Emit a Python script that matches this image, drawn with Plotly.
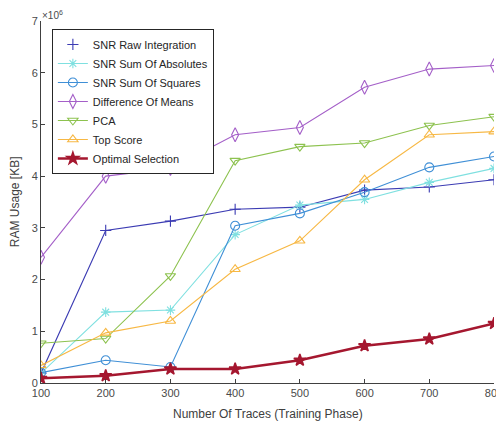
import plotly.graph_objects as go

traces_x = [100, 200, 300, 400, 500, 600, 700, 800]

snr_raw = [0.19, 2.95, 3.13, 3.36, 3.40, 3.73, 3.79, 3.93]
snr_abs = [0.19, 1.37, 1.41, 2.87, 3.44, 3.55, 3.88, 4.15]
snr_sq = [0.20, 0.44, 0.31, 3.04, 3.28, 3.69, 4.17, 4.38]
diff_means = [2.43, 4.00, 4.15, 4.80, 4.94, 5.72, 6.07, 6.14]
pca = [0.77, 0.86, 2.07, 4.30, 4.57, 4.64, 4.98, 5.15]
top_score = [0.34, 0.97, 1.20, 2.20, 2.75, 3.93, 4.80, 4.86]
optimal = [0.09, 0.14, 0.27, 0.27, 0.44, 0.72, 0.85, 1.15]

scale = 1e6

series = [
    ("SNR Raw Integration", snr_raw, "#3b3bb3", "cross-thin-open", 1.1, 8),
    ("SNR Sum Of Absolutes", snr_abs, "#7fe0e0", "asterisk-open", 1.1, 8),
    ("SNR Sum Of Squares", snr_sq, "#3f8fd6", "circle-open", 1.1, 9),
    ("Difference Of Means", diff_means, "#a45fc8", "diamond-tall-open", 1.1, 10),
    ("PCA", pca, "#8dc24f", "triangle-down-open", 1.1, 9),
    ("Top Score", top_score, "#f7b844", "triangle-up-open", 1.1, 9),
    ("Optimal Selection", optimal, "#a5172f", "star", 2.5, 9),
]

fig = go.Figure()
for name, vals, color, sym, lw, ms in series:
    y = [v * scale for v in vals]
    mk = dict(symbol=sym, size=ms, color=color, line=dict(color=color, width=1.1 if lw < 2 else 1.5))
    if name == "SNR Raw Integration":
        fig.add_trace(go.Scatter(x=traces_x, y=y, mode="lines+markers", name=name,
                                 showlegend=False, line=dict(color=color, width=lw), marker=mk))
        fig.add_trace(go.Scatter(x=[None], y=[None], mode="markers", name=name, marker=mk))
    else:
        fig.add_trace(go.Scatter(x=traces_x, y=y, mode="lines+markers", name=name,
                                 line=dict(color=color, width=lw), marker=mk))

tick_font = dict(family="Liberation Sans, Arial, sans-serif", size=11, color="#4a4a4a")

# page body has an 8px margin, so the figure is placed at (8, 8)
fig.update_layout(
    width=496, height=423,
    margin=dict(l=33, r=10, t=13, b=48, autoexpand=False),
    paper_bgcolor="white", plot_bgcolor="white",
    font=dict(family="Liberation Sans, Arial, sans-serif", size=11, color="#262626"),
    legend=dict(
        x=0.024, y=0.978, xanchor="left", yanchor="top",
        bgcolor="white", bordercolor="#262626", borderwidth=1,
        font=dict(size=11, color="#262626"),
        tracegroupgap=0, itemwidth=30,
    ),
    xaxis=dict(
        range=[100, 800], tickvals=traces_x, ticktext=[str(v) for v in traces_x],
        ticks="inside", ticklen=4, tickcolor="#404040", automargin=False,
        showline=True, linecolor="#404040", linewidth=1, showgrid=False, zeroline=False,
        tickfont=tick_font,
    ),
    yaxis=dict(
        range=[0, 7e6], tickvals=[i * scale for i in range(8)], ticktext=[str(i) for i in range(8)],
        ticks="inside", ticklen=4, tickcolor="#404040", automargin=False,
        showline=True, linecolor="#404040", linewidth=1, showgrid=False, zeroline=False,
        tickfont=tick_font,
    ),
    annotations=[
        dict(text="×10<sup>6</sup>", xref="paper", yref="paper", x=0.0, y=0.998,
             xanchor="left", yanchor="bottom", showarrow=False, borderpad=0,
             font=dict(size=10, color="#4a4a4a")),
        dict(text="Number Of Traces (Training Phase)", xref="paper", yref="paper",
             x=0.5, y=-0.086, xanchor="center", yanchor="middle", showarrow=False,
             font=dict(size=12, color="#404040")),
        dict(text="RAM Usage [KB]", xref="paper", yref="paper", textangle=-90,
             x=-0.057, y=0.5, xanchor="center", yanchor="middle", showarrow=False,
             font=dict(size=12, color="#404040")),
    ],
)

fig.write_html("out.html")
